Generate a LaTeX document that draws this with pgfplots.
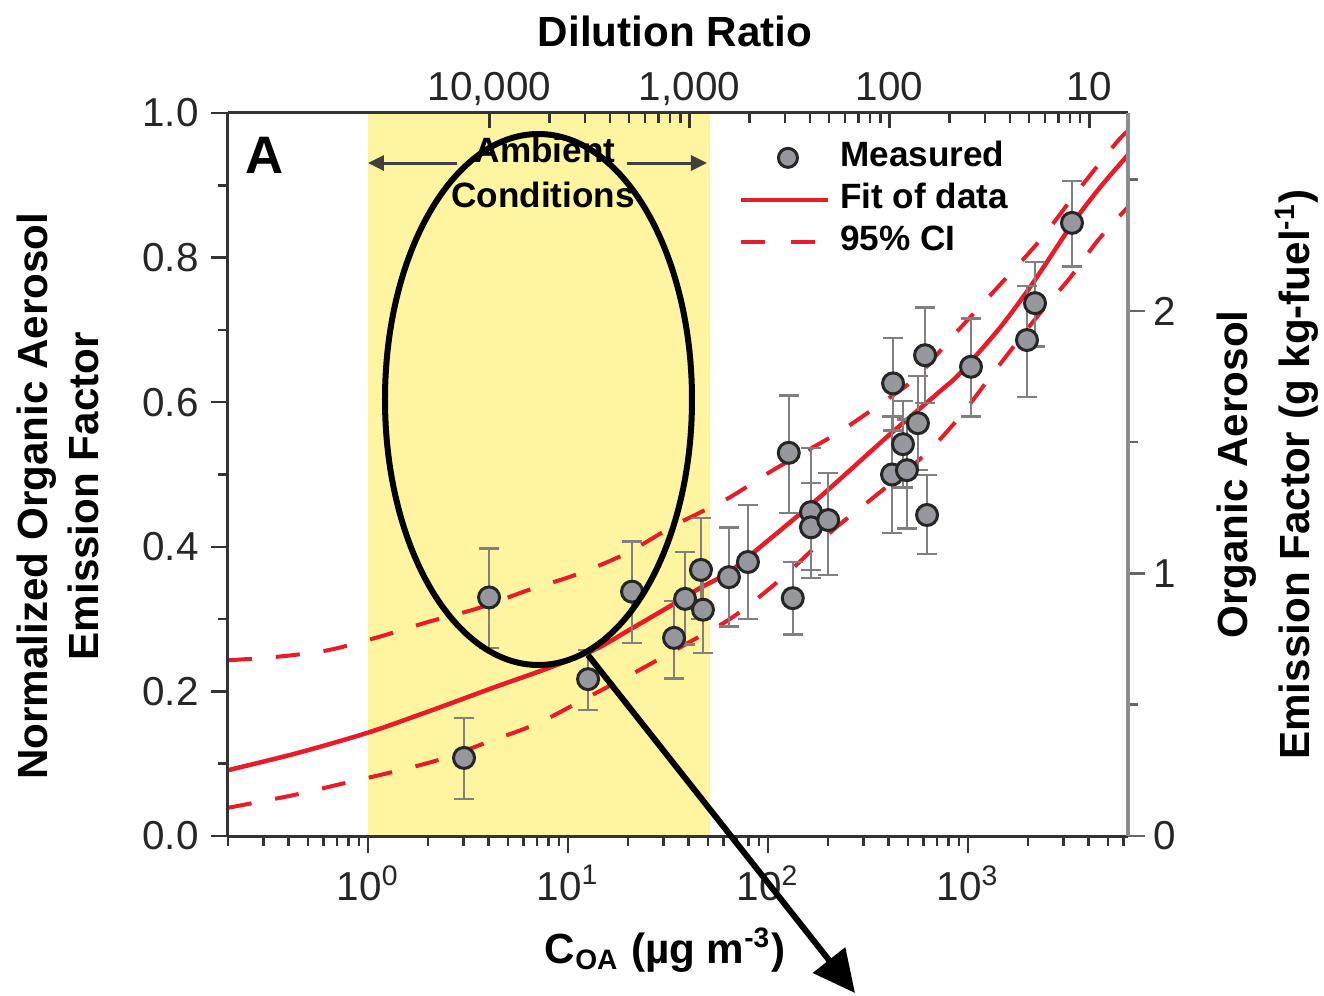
\documentclass[border=0pt]{standalone}
\usepackage{fontspec}
\setmainfont{Liberation Sans}
\usepackage{pgfplots}
\usepackage{pgfplotstable}
\pgfplotsset{compat=1.18}
\usetikzlibrary{arrows.meta}

\definecolor{band}{RGB}{255,245,160}
\definecolor{fitred}{RGB}{232,28,38}
\definecolor{mgray}{RGB}{150,152,158}
\definecolor{egray}{RGB}{128,128,128}

\newcommand\lbl{\fontsize{12}{14.4}\selectfont\bfseries}
\newcommand\leg{\fontsize{10}{12}\selectfont\bfseries}
\newcommand\tkl{\fontsize{11.5}{13}\selectfont}

\pgfplotstableread{
C y ep em
3.02 0.108 0.055 0.057
4.03 0.330 0.068 0.070
12.6 0.217 0.040 0.043
20.9 0.338 0.069 0.071
33.9 0.274 0.051 0.056
38.5 0.328 0.065 0.063
46.2 0.368 0.072 0.068
47.3 0.313 0.057 0.060
63.8 0.358 0.069 0.068
79.4 0.379 0.079 0.079
127 0.530 0.079 0.083
133 0.329 0.050 0.050
164 0.448 0.089 0.080
164 0.427 0.061 0.070
200 0.437 0.065 0.076
417 0.500 0.080 0.081
422 0.626 0.063 0.065
473 0.542 0.060 0.060
495 0.506 0.070 0.081
562 0.571 0.065 0.065
610 0.665 0.066 0.066
624 0.444 0.055 0.054
1035 0.649 0.067 0.069
1972 0.686 0.075 0.079
2163 0.737 0.057 0.060
3311 0.848 0.058 0.060
}\measuredtab

\pgfplotstableread{
C y
0.1995 0.091
0.447 0.115
1.0 0.143
1.995 0.172
4.315 0.206
7.94 0.232
13.65 0.258
19.95 0.284
34.3 0.322
45.7 0.343
63.1 0.364
88.1 0.396
182 0.469
393.6 0.552
724 0.615
912 0.640
1445 0.703
2113 0.765
3311 0.846
4571 0.897
6310 0.942
}\fittab

\pgfplotstableread{
C y
0.1995 0.243
0.355 0.248
0.631 0.257
1.122 0.275
1.995 0.296
3.548 0.315
6.31 0.340
10.84 0.361
19.28 0.390
34.3 0.430
63.1 0.467
105.9 0.506
221.3 0.557
375.8 0.600
555.9 0.635
831.8 0.690
1365 0.755
2291 0.824
3508 0.891
5559 0.960
6310 0.975
}\uppertab

\pgfplotstableread{
C y
0.1995 0.039
0.4315 0.057
0.708 0.071
1.259 0.087
2.239 0.105
3.981 0.130
7.079 0.156
12.59 0.192
21.88 0.227
39.81 0.267
66.83 0.303
118.9 0.358
211.3 0.423
312.6 0.461
595.7 0.525
912 0.580
1334 0.640
2213 0.718
3236 0.772
4467 0.824
6310 0.870
}\lowertab

\begin{document}
\begin{tikzpicture}[x=1cm,y=1cm]
\useasboundingbox (-2.28,-1.59) rectangle (10.96,8.36);

% main axis
\begin{axis}[
  at={(0,0)}, anchor=south west,
  width=9cm, height=7.23cm, scale only axis,
  xmode=log, xmin=0.1995, xmax=6310, ymin=0, ymax=1,
  axis on top,
  axis x line*=bottom, axis y line*=left,
  axis line style={black!80, line width=0.3mm},
  tick align=outside,
  tick style={black!80, line width=0.25mm},
  major tick length=1.7mm, minor tick length=1.0mm,
  xtick={1,10,100,1000},
  xticklabels={10\textsuperscript{0},10\textsuperscript{1},10\textsuperscript{2},10\textsuperscript{3}},
  minor xtick={0.2,0.3,0.4,0.5,0.6,0.7,0.8,0.9,2,3,4,5,6,7,8,9,20,30,40,50,60,70,80,90,200,300,400,500,600,700,800,900,2000,3000,4000,5000,6000},
  ytick={0,0.2,0.4,0.6,0.8,1},
  yticklabels={0.0,0.2,0.4,0.6,0.8,1.0},
  minor ytick={0.1,0.3,0.5,0.7,0.9},
  tick label style={font=\tkl, black!85},
  xlabel={C\textsubscript{OA} (µg m\textsuperscript{-3})},
  xlabel style={at={(axis description cs:0.4856,-0.158)}, anchor=center, font=\lbl},
  ylabel={Normalized Organic Aerosol\\Emission Factor},
  ylabel style={at={(axis description cs:-0.189,0.47)}, anchor=center, align=center, font=\lbl},
  legend style={at={(axis description cs:0.5667,0.968)}, anchor=north west, draw=none, fill=none,
    inner sep=0pt, row sep=0pt, font=\leg,
    nodes={inner sep=0pt, text height=3.0mm, text depth=1.2mm},
    /tikz/every odd column/.style={column sep=1.0mm}},
  legend cell align=left,
]
\addlegendimage{legend image code/.code={\path[draw=none] (0cm,0cm) -- (0.87cm,0cm);
   \draw[fill=mgray, draw=black!85, line width=0.3mm] (0.47cm,0cm) circle[radius=0.95mm];}}
\addlegendentry{Measured}
\addlegendimage{legend image code/.code={\draw[fitred, line width=0.45mm] (0cm,0cm) -- (0.87cm,0cm);}}
\addlegendentry{Fit of data}
\addlegendimage{legend image code/.code={\path[draw=none] (0cm,0cm) -- (0.87cm,0cm);
   \draw[fitred, line width=0.4mm, dash pattern=on 2.4mm off 2.6mm] (0cm,0cm) -- (0.74cm,0cm);}}
\addlegendentry{95\% CI}

\addplot[draw=none, fill=band, forget plot] coordinates {(1,0) (1,1) (51.3,1) (51.3,0)} -- cycle;

\addplot[fitred, line width=0.4mm, dash pattern=on 2.4mm off 2.4mm, smooth, forget plot] table[x=C,y=y]{\uppertab};
\addplot[fitred, line width=0.4mm, dash pattern=on 2.4mm off 2.4mm, smooth, forget plot] table[x=C,y=y]{\lowertab};
\addplot[fitred, line width=0.45mm, smooth, forget plot] table[x=C,y=y]{\fittab};

\addplot[only marks, mark=*, mark size=1.05mm, forget plot,
  mark options={fill=mgray, draw=black!85, line width=0.3mm},
  error bars/.cd, y dir=both, y explicit,
  error bar style={egray, line width=0.25mm},
  error mark options={rotate=90, egray, mark size=1.0mm, line width=0.25mm}]
  table[x=C, y=y, y error plus=ep, y error minus=em]{\measuredtab};
\end{axis}

% top axis: dilution ratio
\begin{axis}[
  at={(0,0)}, anchor=south west,
  width=9cm, height=7.23cm, scale only axis,
  xmode=log, xmin=0.1995, xmax=6310, ymin=0, ymax=1,
  axis x line*=top, axis y line=none,
  axis line style={black!80, line width=0.3mm},
  tick align=inside,
  tick style={black!80, line width=0.25mm},
  major tick length=1.5mm,
  xtick={4.046,40.46,404.6,4046},
  xticklabels={{10,000},{1,000},100,10},
  minor xtick={},
  tick label style={font=\tkl, black!85},
  xticklabel style={text depth=0pt, text height=2.9mm},
  xlabel={Dilution Ratio},
  xlabel style={at={(axis description cs:0.4967,1.113)}, anchor=center, font=\lbl},
]
\addplot[draw=none] coordinates {(1,0.5)};
\end{axis}

% right axis: absolute emission factor
\begin{axis}[
  at={(0,0)}, anchor=south west,
  width=9cm, height=7.23cm, scale only axis,
  xmin=0, xmax=1, ymin=0, ymax=2.754,
  axis y line*=right, axis x line=none,
  axis line style={black!45, line width=0.35mm},
  tick align=outside,
  tick style={black!60, line width=0.25mm},
  major tick length=1.7mm, minor tick length=1.0mm,
  ytick={0,1,2}, yticklabels={0,1,2}, minor ytick={0.5,1.5,2.5},
  tick label style={font=\tkl, black!85},
  yticklabel style={xshift=-0.4mm},
  ylabel={Organic Aerosol\\[1.2mm]Emission Factor (g kg-fuel\textsuperscript{-1})},
  ylabel style={at={(axis description cs:1.155,0.5)}, anchor=center, align=center, font=\lbl},
]
\addplot[draw=none] coordinates {(0.5,1)};
\end{axis}

% annotations
\draw[black!75, line width=0.3mm, -{Triangle[length=1.6mm,width=1.5mm]}] (2.29,6.73) -- (1.40,6.73);
\draw[black!75, line width=0.3mm, -{Triangle[length=1.6mm,width=1.5mm]}] (3.99,6.73) -- (4.79,6.73);
\node[font=\leg] at (3.17,6.86) {Ambient};
\node[font=\leg] at (3.15,6.41) {Conditions};
\node[font=\fontsize{15}{18}\selectfont\bfseries] at (0.37,6.81) {A};

\draw[black, line width=0.6mm] (3.105,4.365) ellipse [x radius=1.535, y radius=2.655];
\draw[black, line width=0.6mm, -{Triangle[length=4.2mm,width=4mm]}] (3.60,1.81) -- (6.27,-1.57);
\end{tikzpicture}
\end{document}
